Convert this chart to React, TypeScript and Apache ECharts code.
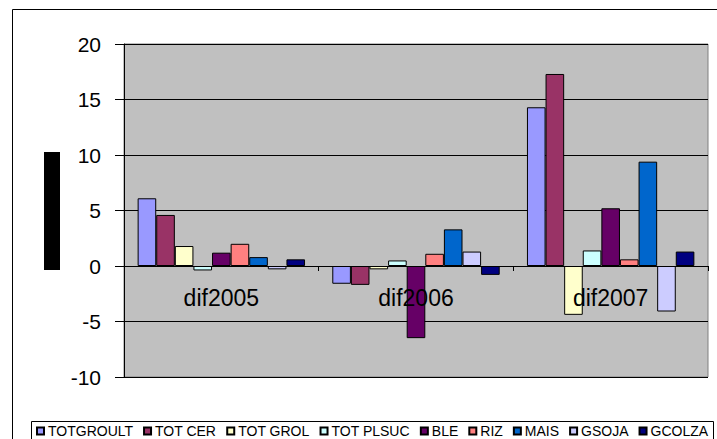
import React, { useEffect, useRef } from "react";
import * as echarts from "echarts";

const categories = ["dif2005", "dif2006", "dif2007"];
const seriesNames = ["TOTGROULT", "TOT CER", "TOT GROL", "TOT PLSUC", "BLE", "RIZ", "MAIS", "GSOJA", "GCOLZA"];
const totgroult = [6.1, -1.6, 14.3];
const totCer = [4.6, -1.7, 17.3];
const totGrol = [1.8, -0.3, -4.4];
const totPlsuc = [-0.4, 0.5, 1.4];
const ble = [1.2, -6.5, 5.2];
const riz = [2.0, 1.1, 0.6];
const mais = [0.8, 3.3, 9.4];
const gsoja = [-0.3, 1.3, -4.1];
const gcolza = [0.6, -0.8, 1.3];
const seriesValues = [totgroult, totCer, totGrol, totPlsuc, ble, riz, mais, gsoja, gcolza];
const colors = ["#9999FF", "#993366", "#FFFFCC", "#CCFFFF", "#660066", "#FF8080", "#0066CC", "#CCCCFF", "#000080"];
const yTicks = { min: -10, max: 20, interval: 5 };

const FONT = "'Liberation Sans', Arial, sans-serif";

export default function App() {
  const ref = useRef<HTMLDivElement>(null);
  useEffect(() => {
    if (!ref.current) return;
    const chart = echarts.init(ref.current, undefined, { renderer: "svg" });
    chart.setOption({
      animation: false,
      backgroundColor: "#ffffff",
      textStyle: { fontFamily: FONT },
      grid: {
        left: 124,
        right: 9,
        top: 44,
        bottom: 62,
        show: true,
        backgroundColor: "#C0C0C0",
        borderColor: "#808080",
        borderWidth: 1,
      },
      graphic: [
        {
          type: "rect",
          z: -10,
          shape: { x: 12.5, y: 9.5, width: 720, height: 440 },
          style: { fill: "none", stroke: "#000", lineWidth: 1 },
        },
        {
          type: "rect",
          z: -5,
          shape: { x: 31.5, y: 421.5, width: 682, height: 30 },
          style: { fill: "#fff", stroke: "#000", lineWidth: 1 },
        },
        {
          type: "rect",
          shape: { x: 44, y: 152, width: 16, height: 118 },
          style: { fill: "#000" },
        },
      ],
      legend: {
        left: 36,
        top: 424,
        padding: 0,
        itemWidth: 7,
        itemHeight: 7,
        itemGap: 10,
        icon: "rect",
        textStyle: { fontFamily: FONT, fontSize: 14, color: "#000", padding: [0, 0, 0, -1] },
        data: seriesNames,
      },
      xAxis: {
        type: "category",
        data: categories,
        axisLine: { show: true, onZero: true, lineStyle: { color: "#000", width: 1 } },
        axisTick: { show: true, length: 5, lineStyle: { color: "#000" } },
        axisLabel: { color: "#000", fontSize: 23, fontFamily: FONT, margin: -91 },
        splitLine: { show: false },
        z: 10,
      },
      yAxis: {
        type: "value",
        min: yTicks.min,
        max: yTicks.max,
        interval: yTicks.interval,
        axisLine: { show: true, lineStyle: { color: "#000" } },
        axisTick: { show: true, length: 9, lineStyle: { color: "#000" } },
        axisLabel: { color: "#000", fontSize: 21, fontFamily: FONT, margin: 23 },
        splitLine: { show: true, lineStyle: { color: "#000", width: 1 } },
      },
      series: seriesNames.map((name, i) => ({
        name,
        type: "bar",
        data: seriesValues[i],
        barGap: "0%",
        barCategoryGap: "14%",
        itemStyle: { color: colors[i], borderColor: "#000", borderWidth: 1 },
      })),
    });
    return () => chart.dispose();
  }, []);
  return (
    <div
      ref={ref}
      style={{ position: "fixed", left: 0, top: 0, width: 717, height: 439 }}
    />
  );
}
